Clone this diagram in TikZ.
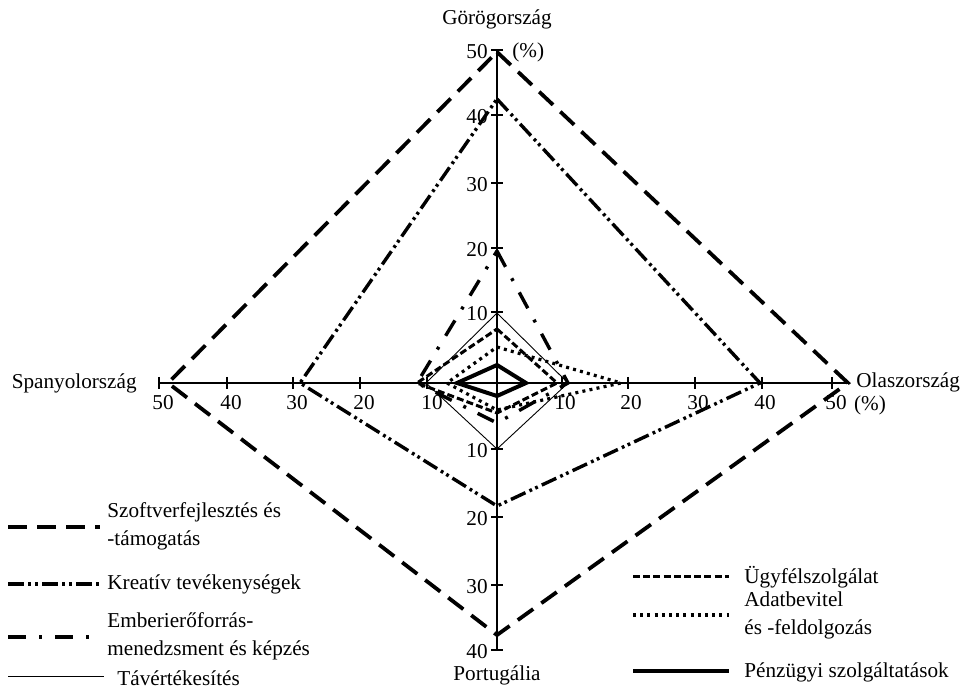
\documentclass[tikz,border=0pt]{standalone}
\usepackage{fontspec}
\setmainfont{Liberation Serif}
\begin{document}
\begin{tikzpicture}[x=0.5pt,y=-0.5pt,
  font=\fontsize{10.6}{14}\selectfont,
  txt/.style={inner sep=0pt},
  axis/.style={line width=0.7pt,black},
  szoft/.style={line width=1.9pt,dash pattern=on 9.5pt off 5pt},
  kreativ/.style={line width=1.7pt,dash pattern=on 8pt off 2.2pt on 1.4pt off 1.8pt on 1.4pt off 2.2pt},
  ember/.style={line width=1.7pt,dash pattern=on 9pt off 6.5pt on 1.5pt off 6.5pt},
  tavert/.style={line width=0.45pt},
  ugyfel/.style={line width=1.5pt,dash pattern=on 3.5pt off 1.6pt},
  adat/.style={line width=1.6pt,line cap=butt,dash pattern=on 1.5pt off 2.1pt},
  penz/.style={line width=2pt},
  line join=miter]
\useasboundingbox (0,0) rectangle (965,689);

% axes
\coordinate (O) at (497,383);
\coordinate (axL) at (159,383);
\coordinate (axR) at (848,383);
\coordinate (axT) at (497,50);
\coordinate (axB) at (497,650);
\draw[axis] (axL) -- (axR);
\draw[axis] (axT) -- (axB);
\foreach \x in {159,227,293,360,427,562,628,695,762,832}
  \draw[axis] (\x,377) -- (\x,389);
\foreach \y in {50,115,183,248,312,449,517,585,650}
  \draw[axis] (491,\y) -- (503,\y);

% axis numbers
\foreach \y/\t in {50/50,115/40,183/30,248/20,312/10,449/10,517/20,585/30,650/40}
  \node[txt,anchor=east] at (488,\y+2) {\t};
\foreach \x/\t in {163/50,231/40,297/30,364/20,432/10,565/10,631/20,698/30,765/40,836/50}
  \node[txt] at (\x,403) {\t};

% country labels
\node[txt] (gr) at (497,19) {Görögország};
\node[txt,anchor=west] (pct1) at (512,52) {(\%)};
\node[txt,anchor=east] (es) at (137,383) {Spanyolország};
\node[txt,anchor=west] (it) at (856,382) {Olaszország};
\node[txt] (pct2) at (870,405) {(\%)};
\node[txt] (pt) at (497,675) {Portugália};

% series
\draw[szoft]   (497,52)  -- (848,383) -- (497,635) -- (168,383) -- cycle;
\draw[kreativ] (497,99)  -- (760,383) -- (497,506) -- (300,383) -- cycle;
\draw[ember]   (497,251) -- (568,383) -- (497,423) -- (417,383) -- cycle;
\draw[tavert]  (497,313) -- (568,383) -- (497,449) -- (426,383) -- cycle;
\draw[ugyfel]  (497,329) -- (557,383) -- (497,413) -- (417,383) -- cycle;
\draw[adat]    (497,347) -- (621,383) -- (497,410) -- (447,383) -- cycle;
\draw[penz]    (497,365) -- (526,383) -- (497,396) -- (457,383) -- cycle;

% legend left
\coordinate (l1a) at (8,527);  \coordinate (l1b) at (100,527);
\coordinate (l2a) at (8,584);  \coordinate (l2b) at (100,584);
\coordinate (l3a) at (8,637);  \coordinate (l3b) at (100,637);
\coordinate (l4a) at (8,676);  \coordinate (l4b) at (104,676);
\draw[szoft] (l1a) -- (l1b);
\draw[kreativ] (l2a) -- (l2b);
\draw[ember] (l3a) -- (l3b);
\draw[tavert] (l4a) -- (l4b);
\node[txt,anchor=west,align=left] (t1) at (107,526) {Szoftverfejlesztés és\\-támogatás};
\node[txt,anchor=west] (t2) at (107,584) {Kreatív tevékenységek};
\node[txt,anchor=west,align=left] (t3) at (107,636) {Emberierőforrás-\\menedzsment és képzés};
\node[txt,anchor=west] (t4) at (117,678) {Távértékesítés};

% legend right
\coordinate (r1a) at (633,577); \coordinate (r1b) at (729,577);
\coordinate (r2a) at (633,615); \coordinate (r2b) at (729,615);
\coordinate (r3a) at (633,671); \coordinate (r3b) at (729,671);
\draw[ugyfel] (r1a) -- (r1b);
\draw[adat] (r2a) -- (r2b);
\draw[penz] (r3a) -- (r3b);
\node[txt,anchor=west] (t5) at (744,577) {Ügyfélszolgálat};
\node[txt,anchor=west,align=left] (t6) at (744,615) {Adatbevitel\\és -feldolgozás};
\node[txt,anchor=west] (t7) at (744,672) {Pénzügyi szolgáltatások};
\end{tikzpicture}
\end{document}
